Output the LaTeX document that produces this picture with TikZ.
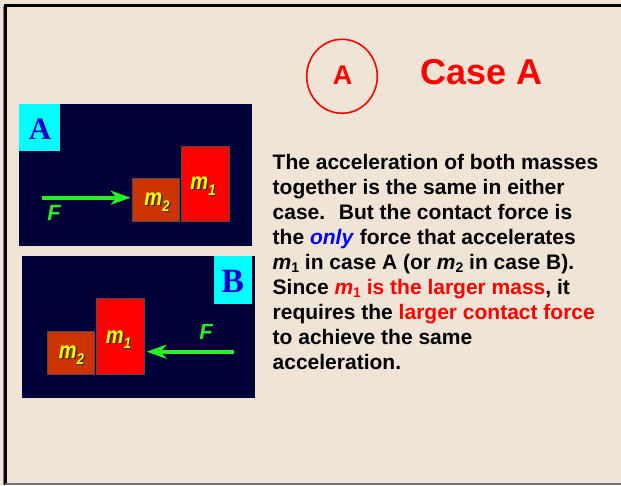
\documentclass[tikz,border=0pt]{standalone}
\usepackage{fontspec}
\setmainfont{Liberation Sans}
\newfontfamily\serifb{Liberation Serif}
\usetikzlibrary{arrows.meta}
\definecolor{bg}{RGB}{239,228,214}
\definecolor{navy}{RGB}{0,0,56}
\definecolor{brick}{RGB}{204,51,0}
\definecolor{fgreen}{RGB}{40,240,40}
\definecolor{lblue}{RGB}{0,0,210}
\definecolor{tblue}{RGB}{0,0,255}
\definecolor{tred}{RGB}{255,0,0}
\definecolor{cyanbox}{RGB}{0,255,255}
\definecolor{yel}{RGB}{255,255,0}
\newcommand\blk[1]{\scalebox{1}[1.18]{\textit{m}\raisebox{-4.5pt}{\fontsize{13}{13}\selectfont\textit{#1}}}}
\newcommand\mi[1]{\textit{m}\raisebox{-3pt}{\fontsize{14}{14}\selectfont #1}}
\begin{document}
\begin{tikzpicture}[x=1pt,y=-1pt,
  panel/.style={fill=navy},
  tagbox/.style={fill=cyanbox, inner sep=0pt, anchor=north west},
  tagtext/.style={font=\serifb\bfseries\fontsize{31}{31}\selectfont, text=lblue, inner sep=0pt},
  massbox/.style={draw=black!70, line width=0.8pt, inner sep=0pt, anchor=north west},
  masslbl/.style={font=\bfseries\fontsize{20}{20}\selectfont, text=yel, inner sep=0pt},
  massshadow/.style={font=\bfseries\fontsize{20}{20}\selectfont, text=black!80, inner sep=0pt},
  flbl/.style={font=\bfseries\itshape\fontsize{22}{22}\selectfont, text=fgreen, inner sep=0pt},
  farrow/.style={draw=fgreen, line width=4.3pt, -{Stealth[length=20pt,width=14pt,inset=6pt]}},
  body/.style={font=\bfseries\fontsize{21}{25}\selectfont, anchor=base west, inner sep=0pt}
]
\useasboundingbox (0,0) rectangle (621,485);
\fill[bg] (0,0) rectangle (621,485);
% frame
\draw[black!50, line width=1pt] (3.5,5.5) -- (3.5,485);
\draw[black, line width=3pt] (5.5,485) -- (5.5,5.5) -- (621,5.5);
\draw[black!55, line width=2.5pt] (5,484) -- (621,484);

% title
\draw[tred, line width=1.6pt] (342,76.3) ellipse [x radius=35.3, y radius=37];
\node[font=\bfseries\fontsize{27}{27}\selectfont, text=tred, anchor=base, inner sep=0pt] (circA) at (342.7,84) {A};
\node[font=\bfseries\fontsize{36}{36}\selectfont, text=tred, anchor=base west, inner sep=0pt] (title) at (420.5,84.3) {Case A};

% panel A
\fill[panel] (18.5,104) rectangle (252,245.7);
\node[tagbox, minimum width=41pt, minimum height=47pt] (tagA) at (18.5,104) {};
\node[tagtext] (tagAt) at (40,129) {A};
\node[massbox, fill=brick, minimum width=47.6pt, minimum height=43pt] (a2) at (131.7,177.7) {};
\node[massbox, fill=tred, minimum width=47.7pt, minimum height=75pt] (a1) at (181,145.7) {};
\node[massshadow] (a2s) at ([shift={(1.3,1.3)}]157,202) {\blk{2}};
\node[masslbl] (a2l) at (157,202) {\blk{2}};
\node[massshadow] (a1s) at ([shift={(1.3,1.3)}]203,186) {\blk{1}};
\node[masslbl] (a1l) at (203,186) {\blk{1}};
\coordinate (aFs) at (41.7,197.7);
\draw[farrow] (aFs) -- ([xshift=-1pt]aFs -| a2.west);
\node[flbl] (aF) at (54,213) {F};

% panel B
\fill[panel] (22,256) rectangle (255,397.7);
\node[tagbox, minimum width=38pt, minimum height=47.3pt] (tagB) at (213.7,256) {};
\node[tagtext, font=\serifb\bfseries\fontsize{34}{34}\selectfont] (tagBt) at (232.7,281) {B};
\node[massbox, fill=brick, minimum width=47.6pt, minimum height=42.7pt] (b2) at (46.7,331) {};
\node[massbox, fill=tred, minimum width=47.7pt, minimum height=75.4pt] (b1) at (96,298.3) {};
\node[massshadow] (b2s) at ([shift={(1.3,1.3)}]71.5,355) {\blk{2}};
\node[masslbl] (b2l) at (71.5,355) {\blk{2}};
\node[massshadow] (b1s) at ([shift={(1.3,1.3)}]118.5,339.5) {\blk{1}};
\node[masslbl] (b1l) at (118.5,339.5) {\blk{1}};
\coordinate (bFs) at (234,351.7);
\draw[farrow] (bFs) -- ([xshift=2pt]bFs -| b1.east);
\node[flbl] (bF) at (206,332) {F};

% body text
\node[body] (l1) at (272.5,169.3) {The acceleration of both masses};
\node[body] (l2) at (272.5,194.3) {together is the same in either};
\node[body] (l3) at (272.5,219.3) {case.~ But the contact force is};
\node[body] (l4) at (272.5,244.3) {the \textcolor{tblue}{\textit{only}} force that accelerates};
\node[body] (l5) at (272.5,269.3) {\mi{1} in case A (or \mi{2} in case B).};
\node[body] (l6) at (272.5,294.3) {Since \textcolor{tred}{\mi{1} is the larger mass}, it};
\node[body] (l7) at (272.5,319.3) {requires the \textcolor{tred}{larger contact force}};
\node[body] (l8) at (272.5,344.3) {to achieve the same};
\node[body] (l9) at (272.5,369.3) {acceleration.};
\end{tikzpicture}
\end{document}
